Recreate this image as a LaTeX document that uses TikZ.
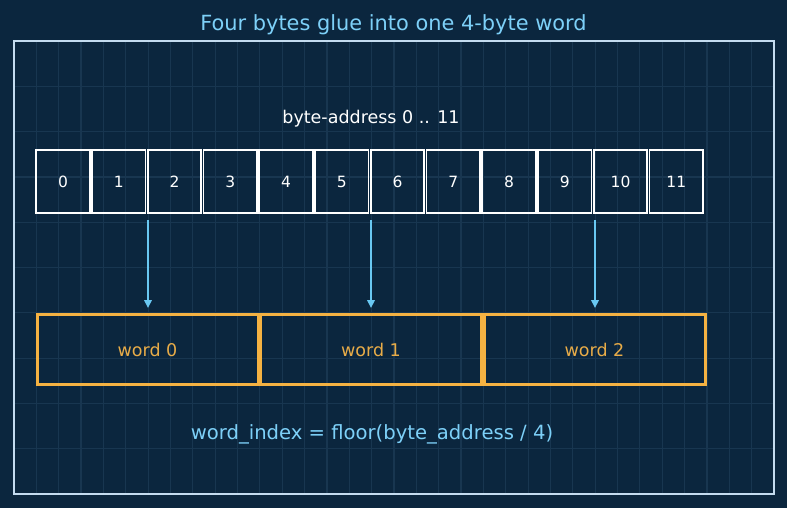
\documentclass[tikz,border=0pt]{standalone}
\usepackage{fontspec}
\setmainfont{DejaVu Sans}
\usetikzlibrary{arrows.meta}
\definecolor{bg}{RGB}{11,38,62}
\definecolor{gridc}{RGB}{24,54,80}
\definecolor{framec}{RGB}{196,220,240}
\definecolor{titlec}{RGB}{125,208,248}
\definecolor{arrowc}{RGB}{105,200,242}
\definecolor{wordc}{RGB}{245,178,66}
\definecolor{wordtext}{RGB}{232,172,72}
\tikzset{
  bytebox/.style={draw=white, line width=1.7pt, minimum width=53.5pt, minimum height=62.5pt, inner sep=0pt, text=white, font=\fontsize{15.5}{18}\selectfont},
  wordbox/.style={draw=wordc, line width=3pt, minimum width=221pt, minimum height=70pt, inner sep=0pt, text=wordtext, font=\fontsize{17.5}{20}\selectfont},
  maparrow/.style={draw=arrowc, line width=2.2pt, -{Triangle[length=8pt,width=7.5pt]}},
}
\begin{document}
\begin{tikzpicture}[x=1pt,y=-1pt]
\fill[bg] (0,0) rectangle (787,508);
\useasboundingbox (0,0) rectangle (787,508);
% grid
\foreach \k in {1,...,33} \draw[gridc, line width=1.2pt] ({14+22.353*\k},41) -- ({14+22.353*\k},494);
\foreach \k in {1,...,9} \draw[gridc, line width=1.2pt] (14,{41+45.3*\k}) -- (774,{41+45.3*\k});
\node[draw=framec, line width=1.7pt, minimum width=760pt, minimum height=453pt, inner sep=0pt] (frame) at (394,267.5) {};
\node[text=titlec, font=\fontsize{20.9}{24}\selectfont] (title) at (393.5,24.5) {Four bytes glue into one 4-byte word};
\node[text=white, font=\fontsize{17.5}{20}\selectfont] (lbl) at (371,118.5) {byte-address 0 .. 11};
\foreach \i in {0,...,11} \node[bytebox] (b\i) at ({63+55.75*\i},181.5) {\i};
\node[wordbox] (w0) at (147.5,349.5) {word 0};
\node[wordbox] (w1) at (371,349.5) {word 1};
\node[wordbox] (w2) at (594.5,349.5) {word 2};
\coordinate (a0) at (148,220);
\coordinate (a1) at (371,220);
\coordinate (a2) at (595,220);
\draw[maparrow] (a0) -- ([yshift=5pt]w0.north -| a0);
\draw[maparrow] (a1) -- ([yshift=5pt]w1.north -| a1);
\draw[maparrow] (a2) -- ([yshift=5pt]w2.north -| a2);
\node[text=titlec, font=\fontsize{19.6}{22}\selectfont] (formula) at (372,434.5) {word\_index = floor(byte\_address / 4)};
\end{tikzpicture}
\end{document}
